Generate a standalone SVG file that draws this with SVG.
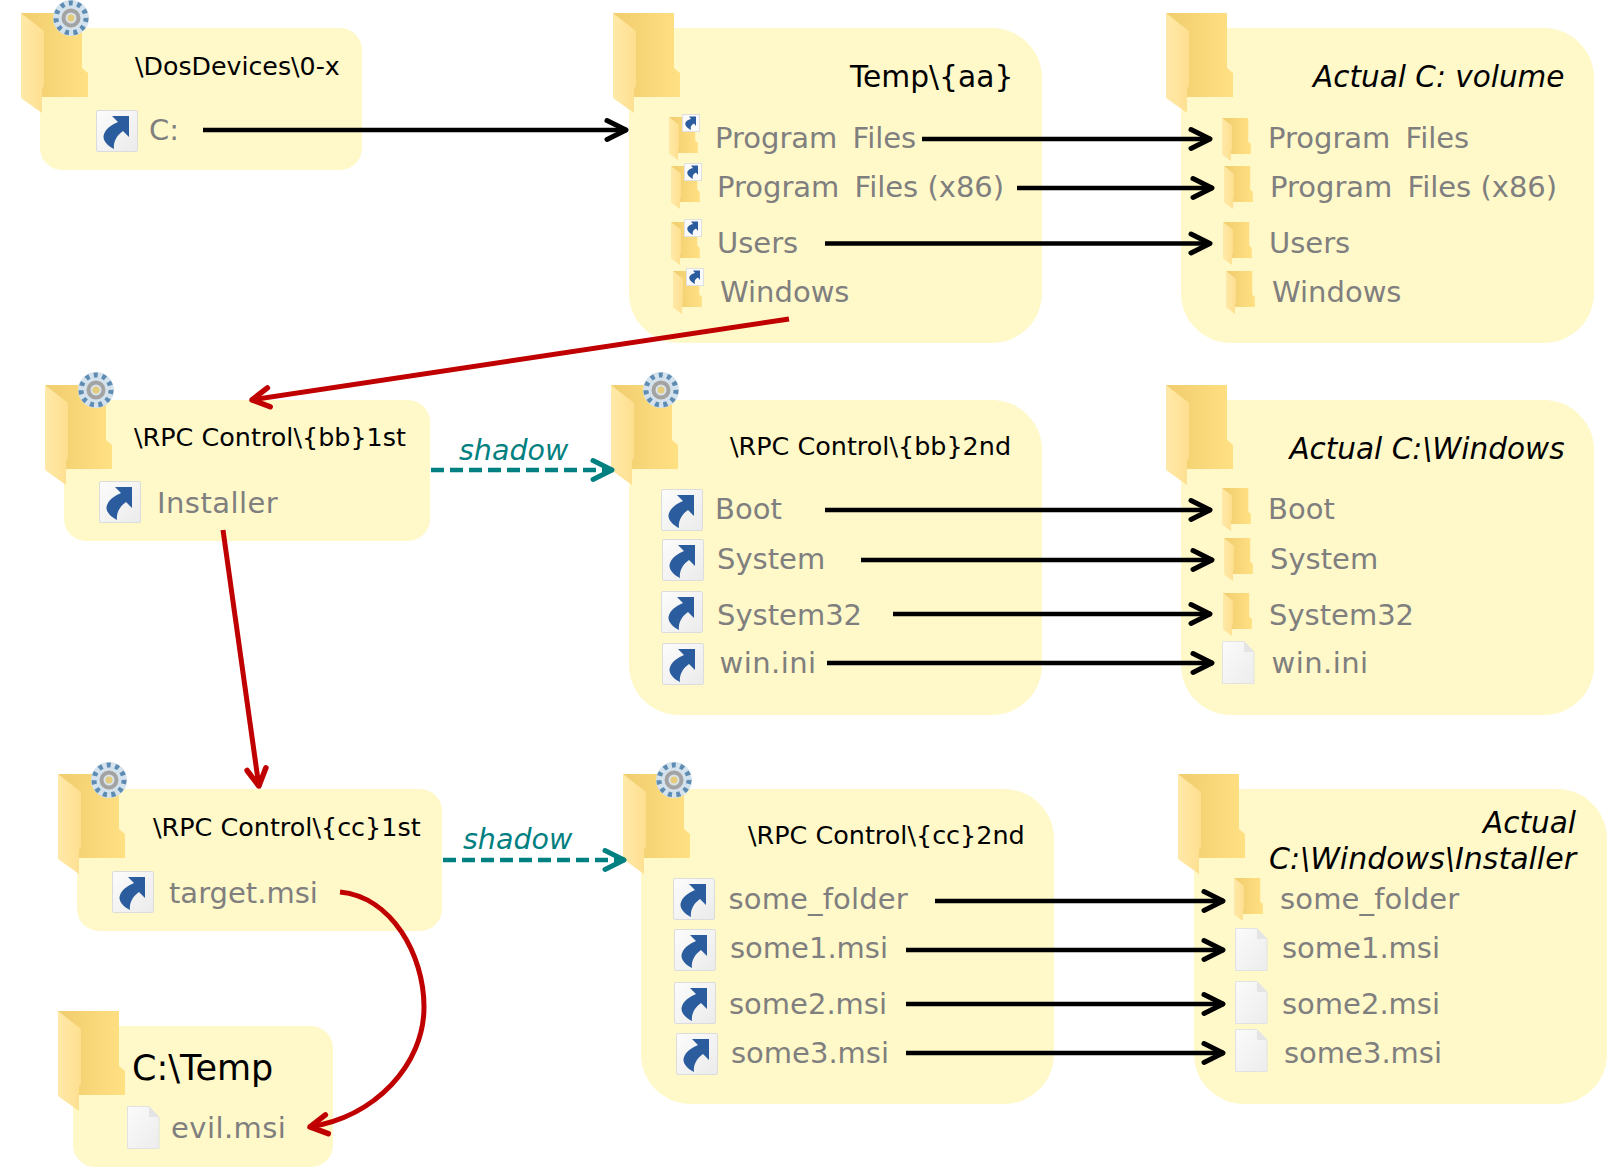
<svg xmlns="http://www.w3.org/2000/svg" xmlns:xlink="http://www.w3.org/1999/xlink" width="1607" height="1167" viewBox="0 0 1607 1167">
<style>
.p{fill:#fff8c9}
text{font-family:"DejaVu Sans",Verdana,sans-serif}
.l{font-size:29px;fill:#7f7f7f;word-spacing:6px}
.n{word-spacing:0}
.w{letter-spacing:.45px}
.t{font-size:25.45px;fill:#000}
.b{font-size:29.7px;fill:#000}
.i{font-size:29.5px;fill:#000;font-style:italic;text-anchor:end}
.s{font-size:28.5px;fill:#008080;font-style:italic}
.k{fill:none;stroke:#000;stroke-width:4.5}
.r{fill:none;stroke:#c00000;stroke-width:5}
.d{fill:none;stroke:#008080;stroke-width:4.5;stroke-dasharray:13 6}
</style>
<defs>
<linearGradient id="gb" x1="0" x2="1" y1="0.5" y2="0.5"><stop offset="0" stop-color="#f0cd6e"/><stop offset="1" stop-color="#ffe083"/></linearGradient>
<linearGradient id="gf" x1="0" x2="1" y1="0" y2="0"><stop offset="0" stop-color="#ffe9a8"/><stop offset="1" stop-color="#fedf90"/></linearGradient>
<linearGradient id="gp" x1="0" x2="1" y1="0" y2="1"><stop offset="0" stop-color="#fbfbfb"/><stop offset="1" stop-color="#ececec"/></linearGradient>
<linearGradient id="gs" x1="0" x2="1" y1="0" y2="1"><stop offset="0" stop-color="#fcfcfc"/><stop offset="1" stop-color="#ebebeb"/></linearGradient>
<marker id="ak" markerUnits="userSpaceOnUse" viewBox="-26 -14 30 28" refX="0" refY="0" markerWidth="30" markerHeight="28" orient="auto"><path d="M-20,-9.5 L-1,0 L-20,9.5" fill="none" stroke="#000" stroke-width="5" stroke-linecap="round" stroke-linejoin="round"/></marker>
<marker id="ar" markerUnits="userSpaceOnUse" viewBox="-26 -14 30 28" refX="0" refY="0" markerWidth="30" markerHeight="28" orient="auto"><path d="M-18,-9.5 L-1,0 L-18,9.5" fill="none" stroke="#c00000" stroke-width="5.5" stroke-linecap="round" stroke-linejoin="round"/></marker>
<marker id="at" markerUnits="userSpaceOnUse" viewBox="-26 -14 30 28" refX="0" refY="0" markerWidth="30" markerHeight="28" orient="auto"><path d="M-20,-9.5 L-1,0 L-20,9.5" fill="none" stroke="#008080" stroke-width="5" stroke-linecap="round" stroke-linejoin="round"/></marker>
<g id="folder">
<path d="M0,0 H61 V55 L67,60 V84 H21 V30 Z" fill="url(#gb)"/>
<path d="M0,0 L23,18 V72 L21,76 V100 L0,85 Z" fill="url(#gf)"/>
</g>
<g id="sf"><use xlink:href="#folder" transform="scale(0.43)"/></g>
<g id="sc">
<rect x="0.5" y="0.5" width="41" height="41" rx="1.5" fill="url(#gs)" stroke="#dcdcdc"/>
<path d="M16,6 H33 V27 L27,21 C21,25 17,32 18,39 C12,36 7,31 7.5,26 C9,19 15,15 22,12 Z" fill="#2b5c9e"/>
</g>
<g id="so">
<rect x="0.5" y="0.5" width="17" height="17" fill="#fafafa" stroke="#e0e0e0"/>
<path d="M7,2.5 H14 V12 L12,9.5 C9,11 8,13 9,16 C5,14 2.5,11 3.5,8.5 C4.5,6.5 6.5,5.5 9,5 Z" fill="#2b5c9e"/>
</g>
<g id="file">
<path d="M0.5,0.5 H22 L32,11 V42.5 H0.5 Z" fill="url(#gp)" stroke="#e2e2e2"/>
<path d="M22,0.5 V11 H32 Z" fill="#e4e4e4"/>
</g>
<g id="gear">
<circle r="18" fill="#d3e2ec"/>
<circle r="15" fill="none" stroke="#5f8cb3" stroke-width="5" stroke-dasharray="4 4.5"/>
<circle r="10" fill="#d9e3ea"/>
<circle r="7.5" fill="none" stroke="#a3a3a3" stroke-width="4"/>
<circle r="3.5" fill="#e5cb7c"/>
</g>
<g id="fs"><use xlink:href="#sf"/><use xlink:href="#so" x="13" y="-3"/></g>
</defs>

<g id="node-dosdevices">
<rect class="p" x="40" y="28" width="322" height="142" rx="22"/>
<use xlink:href="#folder" x="21" y="13"/><use xlink:href="#gear" x="71" y="18"/>
<text class="t" x="135" y="75" style="font-size:25.25px">\DosDevices\0-x</text>
<use xlink:href="#sc" x="96" y="110"/>
<text class="l" x="149" y="140">C:</text>
</g>

<g id="node-temp-aa">
<rect class="p" x="629" y="28" width="413" height="315" rx="50"/>
<use xlink:href="#folder" x="613" y="13"/>
<text class="b" x="850" y="86.5">Temp\{aa}</text>
<use xlink:href="#fs" x="669" y="117"/><text class="l" x="715" y="148">Program Files</text>
<use xlink:href="#fs" x="671" y="166"/><text class="l" x="717" y="197">Program Files<tspan class="n"> (x86)</tspan></text>
<use xlink:href="#fs" x="671" y="222"/><text class="l" x="717" y="252.500">Users</text>
<use xlink:href="#fs" x="673" y="271"/><text class="l" x="720" y="302">Windows</text>
</g>

<g id="node-actual-c">
<rect class="p" x="1181" y="28" width="413" height="315" rx="50"/>
<use xlink:href="#folder" x="1166" y="13"/>
<text class="i" x="1564.500" y="86.5">Actual C: volume</text>
<use xlink:href="#sf" x="1222" y="118"/><text class="l" x="1268" y="148">Program Files</text>
<use xlink:href="#sf" x="1224" y="166"/><text class="l" x="1270" y="197">Program Files<tspan class="n"> (x86)</tspan></text>
<use xlink:href="#sf" x="1223" y="222"/><text class="l" x="1269" y="252.500">Users</text>
<use xlink:href="#sf" x="1226" y="271"/><text class="l" x="1272" y="302">Windows</text>
</g>

<g id="node-bb1st">
<rect class="p" x="64" y="400" width="366" height="141" rx="22"/>
<use xlink:href="#folder" x="45" y="385"/><use xlink:href="#gear" x="96" y="390"/>
<text class="t" x="134" y="446">\RPC Control\{bb}1st</text>
<use xlink:href="#sc" x="99" y="481"/>
<text class="l w" x="157" y="513">Installer</text>
</g>

<g id="node-bb2nd">
<rect class="p" x="629" y="400" width="413" height="315" rx="50"/>
<use xlink:href="#folder" x="611" y="385"/><use xlink:href="#gear" x="661" y="390"/>
<text class="t" x="730" y="455">\RPC Control\{bb}2nd</text>
<use xlink:href="#sc" x="661" y="489"/><text class="l" x="715" y="519">Boot</text>
<use xlink:href="#sc" x="662" y="539"/><text class="l" x="717" y="569">System</text>
<use xlink:href="#sc" x="661" y="591"/><text class="l" x="717" y="625">System32</text>
<use xlink:href="#sc" x="662" y="643"/><text class="l w" x="719.500" y="673">win.ini</text>
</g>

<g id="node-actual-windows">
<rect class="p" x="1181" y="400" width="413" height="315" rx="50"/>
<use xlink:href="#folder" x="1166" y="385"/>
<text class="i" x="1564.500" y="459">Actual C:\Windows</text>
<use xlink:href="#sf" x="1222" y="488"/><text class="l" x="1268" y="519">Boot</text>
<use xlink:href="#sf" x="1224" y="538"/><text class="l" x="1270" y="569">System</text>
<use xlink:href="#sf" x="1223" y="593"/><text class="l" x="1269" y="625">System32</text>
<use xlink:href="#file" x="1222" y="641"/><text class="l w" x="1271.500" y="673">win.ini</text>
</g>

<g id="node-cc1st">
<rect class="p" x="77" y="789" width="365" height="142" rx="22"/>
<use xlink:href="#folder" x="58" y="774"/><use xlink:href="#gear" x="109" y="780"/>
<text class="t" x="153" y="836">\RPC Control\{cc}1st</text>
<use xlink:href="#sc" x="112" y="871"/>
<text class="l" x="169" y="903">target.msi</text>
</g>

<g id="node-cc2nd">
<rect class="p" x="641" y="789" width="413" height="315" rx="50"/>
<use xlink:href="#folder" x="623" y="774"/><use xlink:href="#gear" x="674" y="780"/>
<text class="t" x="748" y="844">\RPC Control\{cc}2nd</text>
<use xlink:href="#sc" x="673" y="878"/><text class="l" x="728.500" y="909" style="letter-spacing:.15px">some_folder</text>
<use xlink:href="#sc" x="674" y="929"/><text class="l" x="730" y="958">some1.msi</text>
<use xlink:href="#sc" x="674" y="982"/><text class="l" x="729" y="1014">some2.msi</text>
<use xlink:href="#sc" x="676" y="1033"/><text class="l" x="731" y="1063">some3.msi</text>
</g>

<g id="node-actual-installer">
<rect class="p" x="1194" y="789" width="413" height="315" rx="50"/>
<use xlink:href="#folder" x="1178" y="774"/>
<text class="i" x="1576" y="833">Actual</text>
<text class="i" x="1576" y="869" style="font-size:30px">C:\Windows\Installer</text>
<use xlink:href="#sf" x="1234" y="878"/><text class="l" x="1280" y="909" style="letter-spacing:.15px">some_folder</text>
<use xlink:href="#file" x="1235" y="928"/><text class="l" x="1282" y="958">some1.msi</text>
<use xlink:href="#file" x="1235" y="981"/><text class="l" x="1282" y="1014">some2.msi</text>
<use xlink:href="#file" x="1235" y="1029"/><text class="l" x="1284" y="1063">some3.msi</text>
</g>

<g id="node-temp">
<rect class="p" x="73" y="1026" width="260" height="141" rx="22"/>
<use xlink:href="#folder" x="58" y="1011"/>
<text class="b" x="132" y="1080" style="font-size:35px">C:\Temp</text>
<use xlink:href="#file" x="127" y="1106"/>
<text class="l w" x="171" y="1138">evil.msi</text>
</g>

<g id="connectors">
<path class="k" marker-end="url(#ak)" d="M203,130 H627"/>
<path class="k" marker-end="url(#ak)" d="M922,139 H1211"/>
<path class="k" marker-end="url(#ak)" d="M1017,188 H1213"/>
<path class="k" marker-end="url(#ak)" d="M825,243.500 H1211"/>
<path class="k" marker-end="url(#ak)" d="M825,510 H1211"/>
<path class="k" marker-end="url(#ak)" d="M861,560 H1213"/>
<path class="k" marker-end="url(#ak)" d="M893,614 H1211"/>
<path class="k" marker-end="url(#ak)" d="M827,663 H1213"/>
<path class="k" marker-end="url(#ak)" d="M935,901 H1224"/>
<path class="k" marker-end="url(#ak)" d="M906,950 H1224"/>
<path class="k" marker-end="url(#ak)" d="M906,1004 H1224"/>
<path class="k" marker-end="url(#ak)" d="M906,1053 H1224"/>
<path class="r" marker-end="url(#ar)" d="M789,319 L251,400"/>
<path class="r" marker-end="url(#ar)" d="M223,530 L259,787"/>
<path class="r" marker-end="url(#ar)" d="M340,892 C392,897 424,955 424,1007 C424,1065 375,1117 309,1127"/>
<path class="d" marker-end="url(#at)" d="M431,470 H613"/>
<path class="d" marker-end="url(#at)" d="M443,860 H625"/>
<text class="s" x="459" y="460">shadow</text>
<text class="s" x="463" y="849">shadow</text>
</g>
</svg>
